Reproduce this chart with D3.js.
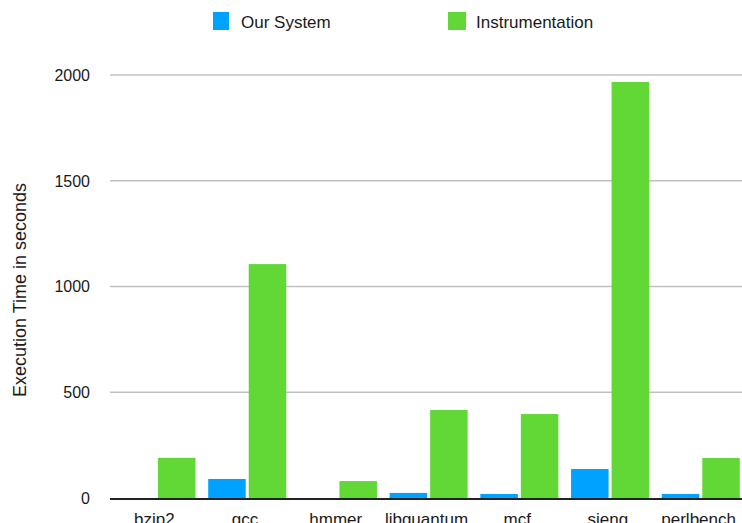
<!DOCTYPE html>
<html><head><meta charset="utf-8">
<script src="https://cdn.jsdelivr.net/npm/d3@7"></script>
<style>
html,body{margin:0;padding:0;background:#fff;overflow:hidden;}
text{font-family:"Liberation Sans",Arial,Helvetica,sans-serif;fill:#1a1a1a;}
</style></head>
<body>
<svg id="chart" width="742" height="523"></svg>
<script>
const categories = ["bzip2","gcc","hmmer","libquantum","mcf","sjeng","perlbench"];
const seriesNames = ["Our System","Instrumentation"];
const ourSystem = [0, 90, 0, 24, 19, 137, 19];
const instrumentation = [190, 1106, 80, 416, 397, 1967, 189];
const yTicks = [0, 500, 1000, 1500, 2000];
const colors = ["#00a2ff", "#61d836"];
const yTitle = "Execution Time in seconds";

const seriesValues = [ourSystem, instrumentation];
const svg = d3.select("#chart");

const x0 = d3.scaleBand().domain(categories).range([110, 745]).padding(0);
const x1 = d3.scaleBand().domain(seriesNames).range([7.5, 85.5]).paddingInner(0.074).paddingOuter(0);
const y = d3.scaleLinear().domain([0, 2000]).range([498, 75]);

// gridlines
svg.append("g").selectAll("line").data(yTicks.filter(d => d > 0)).join("line")
  .attr("x1", 110).attr("x2", 742)
  .attr("y1", d => y(d)).attr("y2", d => y(d))
  .attr("stroke", "#c0c0c0").attr("stroke-width", 1.6);

// y tick labels
svg.append("g").selectAll("text").data(yTicks).join("text")
  .attr("x", 90).attr("y", d => y(d))
  .attr("text-anchor", "end").attr("dy", "0.36em")
  .attr("font-size", 16)
  .text(d => d);

// bars
const groups = svg.append("g").selectAll("g").data(categories).join("g")
  .attr("transform", d => `translate(${x0(d)},0)`);
groups.selectAll("rect").data((c, i) => seriesNames.map((s, j) => ({s, v: seriesValues[j][i], j})))
  .join("rect")
  .attr("x", d => x1(d.s))
  .attr("width", x1.bandwidth())
  .attr("y", d => y(d.v))
  .attr("height", d => y(0) - y(d.v))
  .attr("fill", d => colors[d.j]);

// x axis line
svg.append("line").attr("x1", 110).attr("x2", 742).attr("y1", 499).attr("y2", 499)
  .attr("stroke", "#222").attr("stroke-width", 2);

// x labels
svg.append("g").selectAll("text").data(categories).join("text")
  .attr("x", d => x0(d) + x0.bandwidth() / 2 - 1)
  .attr("y", 524.5)
  .attr("text-anchor", "middle")
  .attr("font-size", 17)
  .text(d => d);

// y title
svg.append("text")
  .attr("transform", "translate(26,290) rotate(-90)")
  .attr("text-anchor", "middle")
  .attr("font-size", 18)
  .text(yTitle);

// legend
const legendX = [213, 448];
const leg = svg.append("g").selectAll("g").data(seriesNames).join("g")
  .attr("transform", (d, i) => `translate(${legendX[i]},0)`);
leg.append("rect").attr("x", 0).attr("y", 12).attr("width", (d, i) => i === 0 ? 16 : 18).attr("height", 18)
  .attr("fill", (d, i) => colors[i]);
leg.append("text").attr("x", (d, i) => i === 0 ? 28 : 28).attr("y", 28)
  .attr("font-size", 17).text(d => d);
</script>
</body></html>
